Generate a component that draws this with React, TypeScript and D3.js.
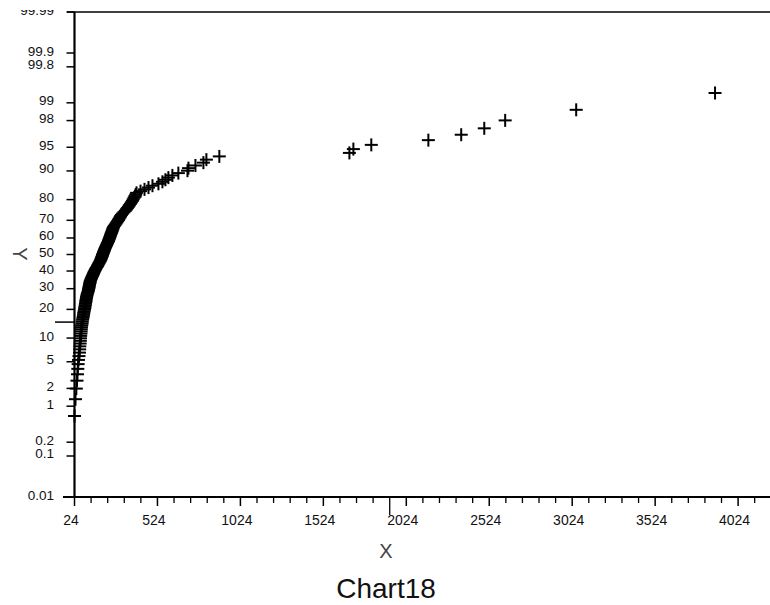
import React from "react";
import * as d3 from "d3";

// Sorted sample values (X)
const xValues: number[] = [
  24, 30, 35, 39, 42, 44, 46, 48, 51, 54,
  55, 56, 58, 59, 60, 61, 63, 64, 65, 66,
  68, 70, 71, 73, 75, 77, 79, 80, 82, 84,
  86, 87, 89, 90, 92, 93, 94, 96, 97, 99,
  101, 103, 106, 108, 109, 111, 112, 114, 115, 117,
  118, 120, 123, 126, 129, 132, 135, 138, 141, 144,
  148, 151, 155, 159, 163, 166, 170, 173, 177, 181,
  183, 186, 188, 191, 193, 195, 198, 200, 203, 205,
  208, 211, 214, 217, 220, 223, 226, 229, 231, 234,
  236, 239, 241, 244, 246, 249, 251, 254, 256, 259,
  264, 269, 274, 279, 284, 289, 293, 298, 302, 307,
  314, 322, 330, 337, 343, 349, 355, 361, 367, 373,
  378, 383, 388, 393, 398, 422, 446, 470, 494, 530,
  554, 572, 590, 614, 650, 705, 711, 753, 801, 819,
  897, 1681, 1705, 1813, 2157, 2355, 2494, 2620, 3048, 3885,
];

// Y axis probability ticks (percent)
const yTickValues: number[] = [0.01, 0.1, 0.2, 1, 2, 5, 10, 20, 30, 40, 50, 60, 70, 80, 90, 95, 98, 99, 99.8, 99.9, 99.99];
const yTickLabels: string[] = ["0.01", "0.1", "0.2", "1", "2", "5", "10", "20", "30", "40", "50", "60", "70", "80", "90", "95", "98", "99", "99.8", "99.9", "99.99"];

// X axis ticks
const xMajorTicks: number[] = [24, 524, 1024, 1524, 2024, 2524, 3024, 3524, 4024, 4524];
const xTickLabels: string[] = ["24", "524", "1024", "1524", "2024", "2524", "3024", "3524", "4024", ""];
const xDomain: number[] = [24, 4524];

const title = "Chart18";
const xTitle = "X";
const yTitle = "Y";

function probit(p: number): number {
  const a = [-3.969683028665376e1, 2.209460984245205e2, -2.759285104469687e2, 1.38357751867269e2, -3.066479806614716e1, 2.506628277459239];
  const b = [-5.447609879822406e1, 1.615858368580409e2, -1.556989798598866e2, 6.680131188771972e1, -1.328068155288572e1];
  const c = [-7.784894002430293e-3, -3.223964580411365e-1, -2.400758277161838, -2.549732539343734, 4.374664141464968, 2.938163982698783];
  const d = [7.784695709041462e-3, 3.224671290700398e-1, 2.445134137142996, 3.754408661907416];
  const plow = 0.02425;
  const phigh = 1 - plow;
  if (p < plow) {
    const q = Math.sqrt(-2 * Math.log(p));
    return (((((c[0] * q + c[1]) * q + c[2]) * q + c[3]) * q + c[4]) * q + c[5]) / ((((d[0] * q + d[1]) * q + d[2]) * q + d[3]) * q + 1);
  } else if (p <= phigh) {
    const q = p - 0.5;
    const r = q * q;
    return ((((((a[0] * r + a[1]) * r + a[2]) * r + a[3]) * r + a[4]) * r + a[5]) * q) / (((((b[0] * r + b[1]) * r + b[2]) * r + b[3]) * r + b[4]) * r + 1);
  } else {
    const q = Math.sqrt(-2 * Math.log(1 - p));
    return -(((((c[0] * q + c[1]) * q + c[2]) * q + c[3]) * q + c[4]) * q + c[5]) / ((((d[0] * q + d[1]) * q + d[2]) * q + d[3]) * q + 1);
  }
}

export default function App() {
  const W = 770;
  const H = 605;
  const axisX = 74.5;
  const axisY = 497;
  const topY = 12;

  const x = d3.scaleLinear().domain(xDomain).range([axisX, axisX + 4500 * 0.1659]);
  const y = d3.scaleLinear().domain([probit(0.0001), probit(0.9999)]).range([axisY, topY]);
  const yp = (pct: number) => y(probit(pct / 100));

  const n = xValues.length;
  const pts = xValues.map((v, i) => ({ px: x(v), py: y(probit((i + 1) / (n + 1))) }));

  const minorTicks: number[] = d3.range(xDomain[0], xDomain[1] + 1, 100).filter((t) => !xMajorTicks.includes(t));

  const font = "'Liberation Sans', Arial, sans-serif";
  const ms = 6.5;

  return (
    <svg width={W} height={H} style={{ position: "absolute", left: 0, top: 0, background: "#fff" }} fontFamily={font}>
      <rect x={0} y={0} width={W} height={H} fill="#fff" />
      {/* top border */}
      <line x1={67} x2={W} y1={topY} y2={topY} stroke="#000" strokeWidth={1.5} />
      {/* y axis */}
      <line x1={axisX} x2={axisX} y1={topY} y2={axisY + 1} stroke="#000" strokeWidth={2.2} />
      {/* x axis */}
      <line x1={63} x2={W} y1={axisY} y2={axisY} stroke="#000" strokeWidth={2.2} />

      {/* y ticks */}
      {yTickValues.map((v, i) => (
        <g key={"yt" + i}>
          <line x1={axisX - 8} x2={axisX} y1={yp(v)} y2={yp(v)} stroke="#000" strokeWidth={1.5} />
          <text x={54} y={yp(v) - 2} textAnchor="end" dominantBaseline="central" fontSize={13.5} fill="#111">
            {yTickLabels[i]}
          </text>
        </g>
      ))}
      {/* stray long tick at 15% */}
      <line x1={55} x2={axisX} y1={yp(15)} y2={yp(15)} stroke="#000" strokeWidth={1.5} />

      {/* x ticks */}
      {xMajorTicks.map((t, i) => (
        <g key={"xt" + t}>
          <line x1={x(t)} x2={x(t)} y1={axisY} y2={axisY + 9} stroke="#000" strokeWidth={1.5} />
          <text x={x(t) - 3.5} y={525} textAnchor="middle" fontSize={14} fill="#111">
            {xTickLabels[i]}
          </text>
        </g>
      ))}
      {minorTicks.map((t) => (
        <line key={"xm" + t} x1={x(t)} x2={x(t)} y1={axisY} y2={axisY + (t === 1924 ? 18 : 6)} stroke="#000" strokeWidth={1.3} />
      ))}

      {/* points */}
      <g stroke="#000" strokeWidth={2}>
        {pts.map((p, i) => (
          <g key={"p" + i}>
            <line x1={p.px - ms} x2={p.px + ms} y1={p.py} y2={p.py} />
            <line x1={p.px} x2={p.px} y1={p.py - ms} y2={p.py + ms} />
          </g>
        ))}
      </g>

      {/* cover top edge (cropped label) */}
      <rect x={0} y={0} width={66} height={10} fill="#fff" />

      {/* axis titles */}
      <text x={20} y={254} textAnchor="middle" dominantBaseline="central" fontSize={20} fill="#444" transform="rotate(90 20 254)">
        {yTitle}
      </text>
      <text x={386} y={558} textAnchor="middle" fontSize={20} fill="#444">
        {xTitle}
      </text>
      <text x={386} y={598} textAnchor="middle" fontSize={28} fill="#111">
        {title}
      </text>
    </svg>
  );
}
